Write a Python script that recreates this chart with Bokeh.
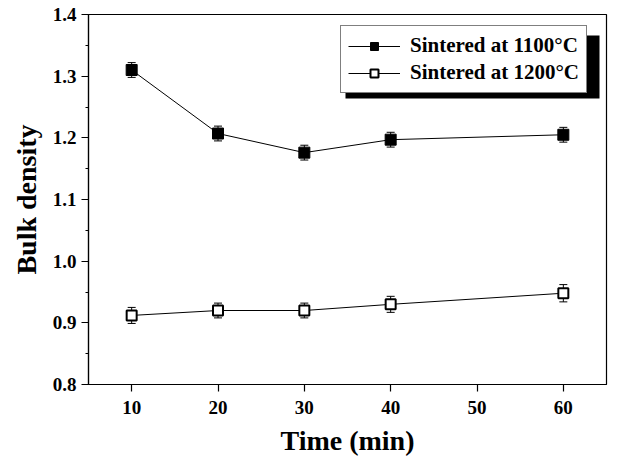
from bokeh.plotting import figure
from bokeh.models import (ColumnDataSource, Whisker, TeeHead, Legend, LegendItem,
                          FixedTicker, PrintfTickFormatter, Range1d, BoxAnnotation)
from bokeh.embed import file_html
from bokeh.resources import INLINE

time_min = [10, 20, 30, 40, 60]
density_1100 = [1.31, 1.207, 1.176, 1.197, 1.205]
density_1200 = [0.912, 0.92, 0.92, 0.93, 0.948]
err_1100 = [0.012, 0.012, 0.012, 0.012, 0.012]
err_1200 = [0.013, 0.012, 0.012, 0.013, 0.014]
x_ticks = [10, 20, 30, 40, 50, 60]
y_ticks = [0.8, 0.9, 1.0, 1.1, 1.2, 1.3, 1.4]
labels = ["Sintered at 1100°C", "Sintered at 1200°C"]

FONT = "Liberation Serif"

p = figure(width=612, height=459, output_backend="svg", toolbar_location=None,
           x_range=Range1d(5, 65), y_range=Range1d(0.8, 1.4),
           min_border_left=88, min_border_right=6, min_border_top=14, min_border_bottom=75)
p.grid.visible = False
p.outline_line_color = "black"
p.outline_line_width = 1.2
p.background_fill_color = "white"
p.border_fill_color = "white"

for ax in (p.xaxis[0], p.yaxis[0]):
    ax.axis_line_width = 1.2
    ax.major_tick_line_width = 1.2
    ax.major_tick_in = 0
    ax.major_tick_out = 7
    ax.minor_tick_in = 0
    ax.minor_tick_out = 3
    ax.major_label_text_font = FONT
    ax.major_label_text_font_style = "bold"
    ax.major_label_text_font_size = "19px"
    ax.major_label_text_color = "black"
    ax.axis_label_text_font = FONT
    ax.axis_label_text_font_style = "bold"
    ax.axis_label_text_font_size = "28px"
    ax.axis_label_text_color = "black"

p.xaxis.ticker = FixedTicker(ticks=x_ticks, minor_ticks=[])
p.yaxis.ticker = FixedTicker(ticks=y_ticks, minor_ticks=[0.85, 0.95, 1.05, 1.15, 1.25, 1.35])
p.yaxis.formatter = PrintfTickFormatter(format="%.1f")
p.xaxis.axis_label = "Time (min)"
p.yaxis.axis_label = "Bulk density"
p.xaxis.major_label_standoff = 9
p.yaxis.major_label_standoff = 5
p.xaxis.axis_label_standoff = 8
p.yaxis.axis_label_standoff = 8

src1 = ColumnDataSource(dict(x=time_min, y=density_1100,
                             lo=[v - e for v, e in zip(density_1100, err_1100)],
                             hi=[v + e for v, e in zip(density_1100, err_1100)]))
src2 = ColumnDataSource(dict(x=time_min, y=density_1200,
                             lo=[v - e for v, e in zip(density_1200, err_1200)],
                             hi=[v + e for v, e in zip(density_1200, err_1200)]))

for src in (src1, src2):
    w = Whisker(source=src, base="x", upper="hi", lower="lo", line_color="black", line_width=1,
                upper_head=TeeHead(size=8, line_color="black", line_width=1),
                lower_head=TeeHead(size=8, line_color="black", line_width=1))
    p.add_layout(w)

l1 = p.line("x", "y", source=src1, line_color="black", line_width=1)
m1 = p.scatter("x", "y", source=src1, marker="square", size=11, fill_color="black", line_color="black")
l2 = p.line("x", "y", source=src2, line_color="black", line_width=1)
m2 = p.scatter("x", "y", source=src2, marker="square", size=10, fill_color="white",
               line_color="black", line_width=2)

# legend drop shadow (canvas pixels)
shadow = BoxAnnotation(left=345, right=599, top=35, bottom=98, left_units="canvas",
                       right_units="canvas", top_units="canvas", bottom_units="canvas",
                       fill_color="black", fill_alpha=1, line_color=None, level="overlay")
p.add_layout(shadow)

legend = Legend(items=[LegendItem(label=labels[0], renderers=[l1, m1]),
                       LegendItem(label=labels[1], renderers=[l2, m2])],
                location=(252, 291), label_text_font=FONT, label_text_font_style="bold",
                label_text_font_size="21px", label_text_color="black",
                glyph_width=52, glyph_height=20, spacing=2, padding=7, margin=0,
                label_standoff=10, border_line_color="black", border_line_width=1.2,
                background_fill_alpha=1)
p.add_layout(legend, "center")

open("out.html", "w").write(file_html(p, INLINE))
